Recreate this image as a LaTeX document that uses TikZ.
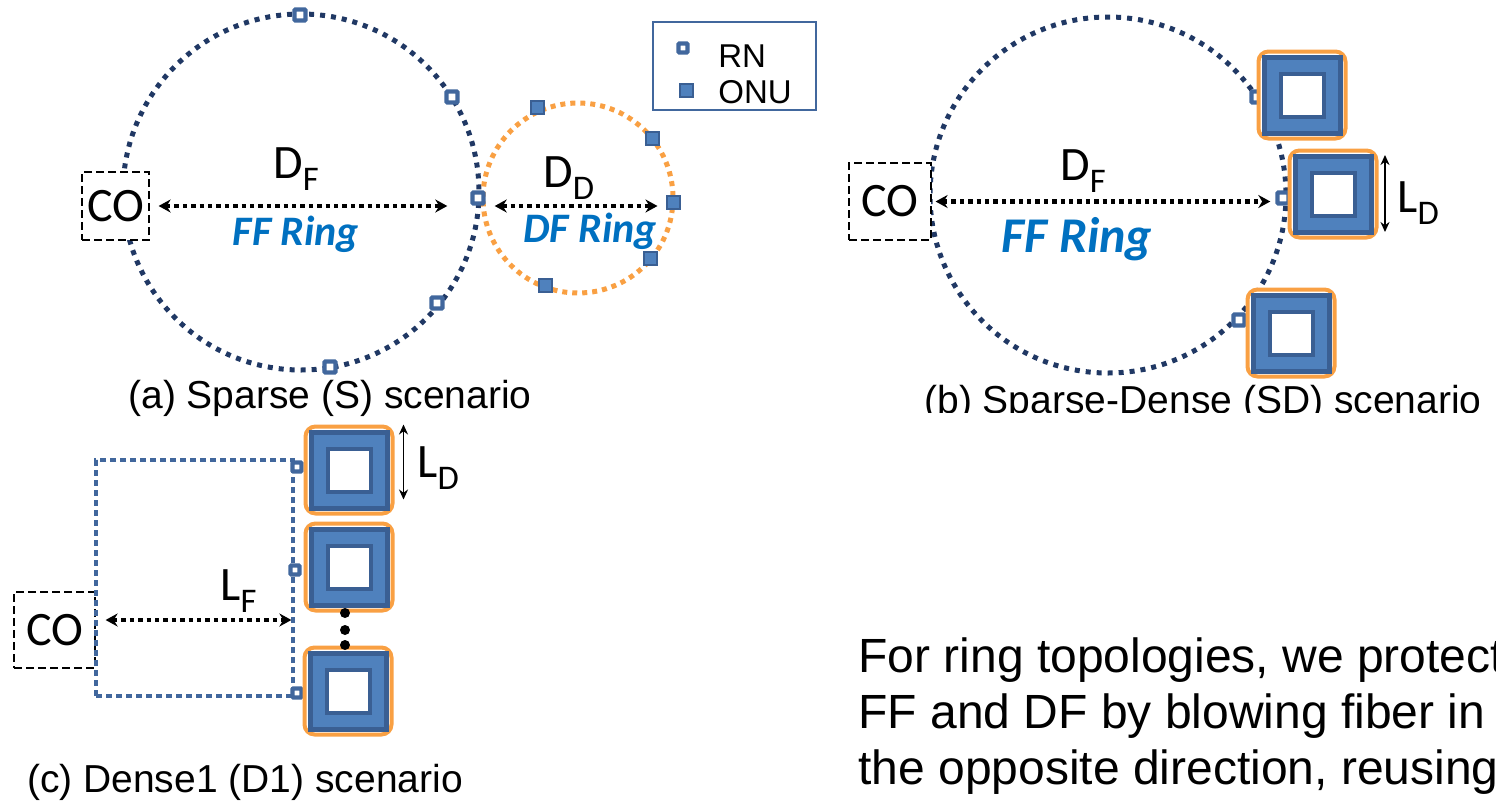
\documentclass[tikz,border=0pt]{standalone}
\usepackage{fontspec}
\setmainfont{Liberation Sans}
\newfontfamily\carlito{Carlito}
\usepackage{graphicx}
\usetikzlibrary{calc,arrows.meta}
\definecolor{ringnavy}{HTML}{203864}
\definecolor{rnblue}{HTML}{41679D}
\definecolor{onublue}{HTML}{4F81BD}
\definecolor{onuedge}{HTML}{3A5F93}
\definecolor{dforange}{HTML}{F9A043}
\definecolor{ringtext}{HTML}{0070C0}
\newcommand{\lsub}[1]{\raisebox{-0.27em}{\scalebox{0.72}{#1}}}
\newcommand{\onubox}[2]{%
    \node[onuframe] (#1) at (#2) {};
    \node[onufill] at (#1) {};
    \node[onuhole] at (#1) {};
}
\tikzset{
    rn/.style={draw=rnblue, fill=white, line width=2.2pt, minimum size=5.5pt, inner sep=0pt, rounded corners=0.5pt},
    onu/.style={draw=onuedge, fill=onublue, line width=1pt, minimum size=6.5pt, inner sep=0pt},
    onuframe/.style={draw=dforange, fill=white, line width=2pt, rounded corners=5pt, minimum size=43.5pt, inner sep=0pt},
    onufill/.style={draw=onuedge, fill=onublue, line width=2.5pt, minimum size=38pt, inner sep=0pt},
    onuhole/.style={draw=onuedge, fill=white, line width=2pt, minimum size=21.5pt, inner sep=0pt},
    cobox/.style={draw, dash pattern=on 4pt off 2pt, line width=0.6pt, fill=white, inner sep=0pt, font=\carlito\fontsize{24}{28}\selectfont},
    ffring/.style={ringnavy, line width=2.5pt, dash pattern=on 2.5pt off 3pt},
    dfring/.style={dforange, line width=2.5pt, dash pattern=on 2.5pt off 2.5pt},
    fiberrect/.style={draw=rnblue, line width=2.4pt, dash pattern=on 3pt off 2pt, inner sep=0pt},
    dimarrow/.style={line width=2.2pt, dash pattern=on 2.2pt off 2pt, {Stealth[length=6pt,width=6.5pt]}-{Stealth[length=6pt,width=6.5pt]}},
    ldarrow/.style={line width=0.8pt, {Stealth[length=5pt,width=4.5pt]}-{Stealth[length=5pt,width=4.5pt]}},
    dotnode/.style={circle, fill, inner sep=0pt, minimum size=5pt},
    lbl/.style={font=\carlito\fontsize{24}{28}\selectfont, inner sep=0pt, anchor=base west},
    ringlbl/.style={font=\carlito\bfseries\itshape\fontsize{21}{25}\selectfont, text=ringtext, inner sep=0pt, anchor=base},
    keytext/.style={font=\fontsize{16.5}{20}\selectfont, inner sep=0pt, anchor=base west},
    caption/.style={font=\fontsize{19.5}{23}\selectfont, inner sep=0pt, anchor=base},
    note/.style={font=\fontsize{24}{28}\selectfont, inner sep=0pt, anchor=base west}
}

\begin{document}
\begin{tikzpicture}[x=0.5pt, y=-0.5pt]
    \useasboundingbox (0,0) rectangle (1496,804);

    % (a) sparse scenario
    \draw[ffring] (301,192) circle[radius=178];
    \draw[dfring] (578,198) circle[radius=95];
    \node[cobox, minimum width=33.5pt, minimum height=34pt] (coa) at (115.5,206) {CO};
    \foreach \p [count=\i] in {(300,15),(452,97),(478,198),(437,303),(330,367)}
        \node[rn] (rna\i) at \p {};
    \foreach \p [count=\i] in {(537,107),(652,138),(673,202),(650,258),(545,285)}
        \node[onu] (onua\i) at \p {};
    \draw[dimarrow] ([xshift=4.5pt]coa.east) -- ([xshift=-11.5pt]coa.east -| rna3.west);
    \draw[dimarrow] ([xshift=4.5pt]rna3.east |- coa.east) -- ([xshift=-4pt]onua3.west |- coa.east);
    \node[lbl] (dfa) at (273,178) {D\lsub{F}};
    \node[lbl] (dda) at (543,187) {D\lsub{D}};
    \node[ringlbl] (ffa) at (296,245) {FF Ring};
    \node[ringlbl] (dfr) at (590,242) {DF Ring};
    \node[caption] (capa) at (330,408) {(a) Sparse (S) scenario};

    % legend
    \node[draw=rnblue, line width=1pt, minimum width=81.5pt, minimum height=44pt] (legend) at (734.5,66) {};
    \node[rn, minimum size=4.5pt] (rnkey) at (683,48) {};
    \node[onu] (onukey) at (686,90) {};
    \node[keytext] (rntext) at (718,67) {RN};
    \node[keytext] (onutext) at (718,103) {ONU};

    % (b) sparse-dense scenario
    \draw[ffring] (1108,195) circle[radius=178];
    \foreach \p [count=\i] in {(1257,97),(1283,198),(1239,320)}
        \node[rn] (rnb\i) at \p {};
    \onubox{onub1}{1302,95}
    \onubox{onub2}{1333,194}
    \onubox{onub3}{1291,333}
    \node[cobox, minimum width=41pt, minimum height=38.5pt] (cob) at (890,201.5) {CO};
    \draw[dimarrow] ([xshift=2pt]cob.east) -- ([xshift=-2.5pt]cob.east -| rnb2.west);
    \draw[ldarrow] ($(onub2.north east)+(6.5,6.5)$) -- ($(onub2.south east)+(6.5,-7.5)$);
    \node[lbl] (dfb) at (1060,180) {D\lsub{F}};
    \node[lbl] (ldb) at (1397,212) {L\lsub{D}};
    \node[ringlbl, font=\carlito\bfseries\itshape\fontsize{25}{30}\selectfont] (ffb) at (1077,252) {FF Ring};
    \begin{scope}
        \clip (880,370) rectangle (1496,412);
        \node[caption] (capb) at (1203,413) {(b) Sparse-Dense (SD) scenario};
    \end{scope}

    % (c) dense1 scenario
    \node[cobox, minimum width=40.5pt, minimum height=38pt] (coc) at (54.5,630) {CO};
    \node[fiberrect, minimum width=98.5pt, minimum height=118pt] (fiber) at (194.5,578) {};
    \foreach \p [count=\i] in {(297,467),(295,570),(297,693)}
        \node[rn, minimum size=4.5pt] (rnc\i) at \p {};
    \onubox{onuc1}{349,470}
    \onubox{onuc2}{349,567}
    \onubox{onuc3}{348,691}
    \foreach \y [count=\i] in {613,630,645}
        \node[dotnode] (dot\i) at (345,\y) {};
    \draw[dimarrow] ($(coc.east)+(10,-10)$) -- ($(fiber.east |- coc.east)+(-4,-10)$);
    \draw[ldarrow] ($(onuc1.north east)+(9,0)$) -- ($(onuc1.north east)+(9,75)$);
    \node[lbl] (lfc) at (220,600) {L\lsub{F}};
    \node[lbl] (ldc) at (417,477) {L\lsub{D}};
    \node[caption] (capc) at (245,792) {(c) Dense1 (D1) scenario};

    % note
    \node[note] (note1) at (858,672) {For ring topologies, we protect};
    \node[note] (note2) at (858,728) {FF and DF by blowing fiber in};
    \node[note] (note3) at (858,784) {the opposite direction, reusing};
\end{tikzpicture}
\end{document}
